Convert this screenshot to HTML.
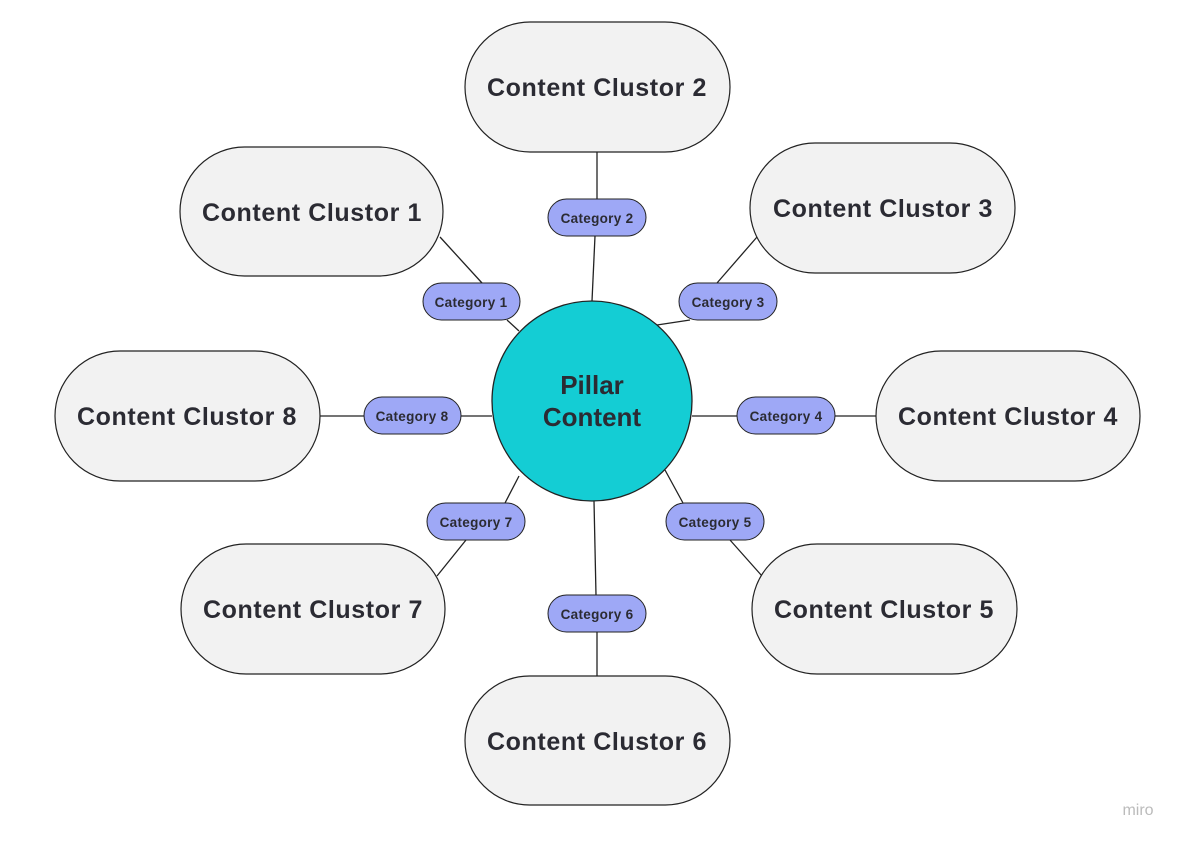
<!DOCTYPE html>
<html><head><meta charset="utf-8"><style>
html,body{margin:0;padding:0;background:#fff;width:1185px;height:843px;overflow:hidden}
svg{display:block}
text{font-family:"Liberation Sans",sans-serif;font-weight:bold;fill:#2b2b33}
</style></head><body>
<svg width="1185" height="843" viewBox="0 0 1185 843">
<g stroke="#222" stroke-width="1.3">
<line x1="440" y1="237" x2="482" y2="283"/><line x1="507" y1="320" x2="519" y2="331"/>
<line x1="597" y1="152" x2="597" y2="199"/><line x1="595" y1="236" x2="592" y2="301"/>
<line x1="757" y1="237" x2="717" y2="283"/><line x1="690" y1="320" x2="657" y2="325"/>
<line x1="320" y1="416" x2="364" y2="416"/><line x1="461" y1="416" x2="492" y2="416"/>
<line x1="692" y1="416" x2="737" y2="416"/><line x1="835" y1="416" x2="876" y2="416"/>
<line x1="519" y1="476" x2="505" y2="503"/><line x1="466" y1="540" x2="437" y2="576"/>
<line x1="665" y1="470" x2="683" y2="503"/><line x1="730" y1="540" x2="762" y2="576"/>
<line x1="594" y1="501" x2="596" y2="595"/><line x1="597" y1="632" x2="597" y2="676"/>
</g>
<g fill="#f2f2f2" stroke="#222" stroke-width="1.2">
<rect x="465" y="22" width="265" height="130" rx="65"/>
<rect x="180" y="147" width="263" height="129" rx="64.5"/>
<rect x="750" y="143" width="265" height="130" rx="65"/>
<rect x="55" y="351" width="265" height="130" rx="65"/>
<rect x="876" y="351" width="264" height="130" rx="65"/>
<rect x="181" y="544" width="264" height="130" rx="65"/>
<rect x="752" y="544" width="265" height="130" rx="65"/>
<rect x="465" y="676" width="265" height="129" rx="64.5"/>
</g>
<circle cx="592" cy="401" r="100" fill="#14cdd4" stroke="#222" stroke-width="1.3"/>
<g fill="#9ea8f6" stroke="#222" stroke-width="1">
<rect x="548" y="199" width="98" height="37" rx="18.5"/>
<rect x="423" y="283" width="97" height="37" rx="18.5"/>
<rect x="679" y="283" width="98" height="37" rx="18.5"/>
<rect x="364" y="397" width="97" height="37" rx="18.5"/>
<rect x="737" y="397" width="98" height="37" rx="18.5"/>
<rect x="427" y="503" width="98" height="37" rx="18.5"/>
<rect x="666" y="503" width="98" height="37" rx="18.5"/>
<rect x="548" y="595" width="98" height="37" rx="18.5"/>
</g>
<g font-size="25" text-anchor="middle" letter-spacing="0.6">
<text x="597" y="96">Content Clustor 2</text>
<text x="312" y="221">Content Clustor 1</text>
<text x="883" y="217">Content Clustor 3</text>
<text x="187" y="425">Content Clustor 8</text>
<text x="1008" y="425">Content Clustor 4</text>
<text x="313" y="618">Content Clustor 7</text>
<text x="884" y="618">Content Clustor 5</text>
<text x="597" y="750">Content Clustor 6</text>
</g>
<g font-size="26" text-anchor="middle" style="fill:#111">
<text x="592" y="394">Pillar</text>
<text x="592" y="426">Content</text>
</g>
<g font-size="13.5" text-anchor="middle" letter-spacing="0.3">
<text x="597" y="223">Category 2</text>
<text x="471" y="307">Category 1</text>
<text x="728" y="307">Category 3</text>
<text x="412" y="421">Category 8</text>
<text x="786" y="421">Category 4</text>
<text x="476" y="527">Category 7</text>
<text x="715" y="527">Category 5</text>
<text x="597" y="619">Category 6</text>
</g>
<text x="1138" y="815" font-size="16" text-anchor="middle" style="fill:#bbb;font-weight:normal">miro</text>
</svg>
</body></html>
